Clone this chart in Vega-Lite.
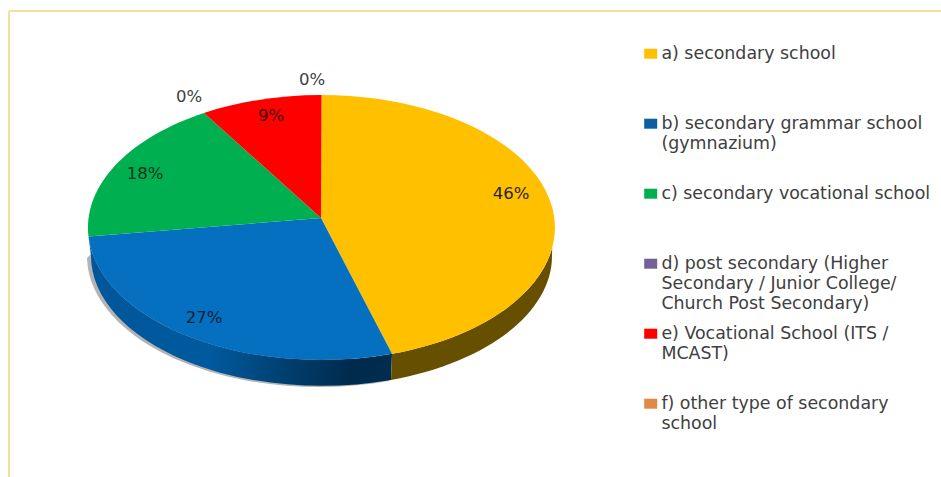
{
 "$schema":"https://vega.github.io/schema/vega-lite/v6.json",
 "width":932,"height":466,
 "padding":{"left":9,"top":11,"right":0,"bottom":0},
 "autosize":{"type":"none"},
 "background":"white",
 "config":{"view":{"stroke":null},"style":{"guide-label":{"lineHeight":20}}},
 "data":{"values":[
  {"key":"a","category":"a) secondary school","share":46,"label":"46%"},
  {"key":"b","category":"b) secondary grammar school\n(gymnazium)","share":27,"label":"27%"},
  {"key":"c","category":"c) secondary vocational school","share":18,"label":"18%"},
  {"key":"d","category":"d) post secondary (Higher\nSecondary / Junior College/\nChurch Post Secondary)","share":0,"label":"0%"},
  {"key":"e","category":"e) Vocational School (ITS /\nMCAST)","share":9,"label":"9%"},
  {"key":"f","category":"f) other type of secondary\nschool","share":0,"label":"0%"}
 ]},
 "layer":[
  {"transform":[{"filter":"datum.key=='a'"}],"mark":{"type":"rule","color":"#F5DFA0","strokeWidth":2},"encoding":{"x":{"value":0}}},
  {"transform":[{"filter":"datum.key=='a'"}],"mark":{"type":"rule","color":"#F5DFA0","strokeWidth":2},"encoding":{"y":{"value":0}}},
  {"transform":[{"filter":"datum.key=='b'"}],
   "mark":{"type":"point","filled":true,"opacity":0.4,"color":"#444444","size":4,"strokeWidth":0,
    "shape":"M-388,14 A232,131 0 0 0 -86,137 L-84,130 L-384,10 Z"}},
  {"transform":[{"filter":"datum.key=='b'"}],
   "mark":{"type":"point","filled":true,"opacity":1,"size":4,"strokeWidth":0,
    "shape":"M-83,109.8 L-84,135.9 A231,130 0 0 1 -384,12 L-386.5,-7.5 A233.5,132.5 0 0 0 -83,109.8 Z",
    "color":{"gradient":"linear","x1":0,"x2":1,"y1":0,"y2":0,"stops":[
     {"offset":0,"color":"#00569B"},{"offset":0.4,"color":"#005A9E"},{"offset":0.7,"color":"#003A66"},{"offset":0.87,"color":"#002A4C"},{"offset":1,"color":"#002D50"}]}}},
  {"transform":[{"filter":"datum.key=='a'"}],
   "mark":{"type":"point","filled":true,"opacity":1,"size":4,"strokeWidth":0,"color":"#665000",
    "shape":"M-83,109.8 A233.5,132.5 0 0 0 77.2,4 L77,12 A231,130 0 0 1 -84,135.9 Z"}},
  {"mark":{"type":"point","filled":true,"opacity":1,"size":4,"strokeWidth":0},
   "encoding":{
    "shape":{"field":"key","type":"nominal","legend":null,"scale":{
      "domain":["a","b","c","d","e","f"],
      "range":[
       "M-154,-26 L-153.5,-149 A233.5,132.5 0 0 1 -83,109.8 Z",
       "M-154,-26 L-83,109.8 A233.5,132.5 0 0 1 -386.5,-7.5 Z",
       "M-154,-26 L-386.5,-7.5 A233.5,132.5 0 0 1 -271,-131 Z",
       "M0,0Z",
       "M-154,-26 L-271,-131 A233.5,132.5 0 0 1 -153.5,-149 Z",
       "M0,0Z"]}},
    "fill":{"field":"key","type":"nominal","legend":null,"scale":{
      "domain":["a","b","c","d","e","f"],
      "range":["#FFC000","#0570C0","#00B050","#76609A","#FF0000","#E08A45"]}}}},
  {"mark":{"type":"point","filled":true,"opacity":1,"size":0,"strokeWidth":0},
   "encoding":{
    "color":{"field":"category","type":"nominal","sort":null,
     "scale":{
      "domain":["a) secondary school","b) secondary grammar school\n(gymnazium)","c) secondary vocational school","d) post secondary (Higher\nSecondary / Junior College/\nChurch Post Secondary)","e) Vocational School (ITS /\nMCAST)","f) other type of secondary\nschool"],
      "range":["#FFC000","#0E5FA0","#00B050","#76609A","#FF0000","#E08A45"]},
     "legend":{"title":null,"orient":"none","legendX":633,"legendY":39,"columns":1,"gridAlign":"all","rowPadding":11,
      "symbolType":"M-1.3,-2 H1.3 V0 H-1.3 Z","symbolSize":100,"symbolStrokeWidth":0,"symbolOpacity":1,
      "labelFont":"DejaVu Sans","labelFontSize":17.4,"labelColor":"#404040","labelLimit":400,"labelOffset":2,"labelBaseline":"alphabetic",
      "labelExpr":"split(datum.label,'\\n')"}}}},
  {"transform":[{"filter":"datum.key=='a'"}],"mark":{"type":"text","dx":36,"dy":-50,"font":"DejaVu Sans","fontSize":16.5,"color":"#262626"},"encoding":{"text":{"field":"label"}}},
  {"transform":[{"filter":"datum.key=='b'"}],"mark":{"type":"text","dx":-271,"dy":74,"font":"DejaVu Sans","fontSize":16.5,"color":"#0A1F33"},"encoding":{"text":{"field":"label"}}},
  {"transform":[{"filter":"datum.key=='c'"}],"mark":{"type":"text","dx":-330,"dy":-70,"font":"DejaVu Sans","fontSize":16.5,"color":"#07331C"},"encoding":{"text":{"field":"label"}}},
  {"transform":[{"filter":"datum.key=='d'"}],"mark":{"type":"text","dx":-286,"dy":-147,"font":"DejaVu Sans","fontSize":16.5,"color":"#404040"},"encoding":{"text":{"field":"label"}}},
  {"transform":[{"filter":"datum.key=='e'"}],"mark":{"type":"text","dx":-204,"dy":-128,"font":"DejaVu Sans","fontSize":16.5,"color":"#400000"},"encoding":{"text":{"field":"label"}}},
  {"transform":[{"filter":"datum.key=='f'"}],"mark":{"type":"text","dx":-163,"dy":-164,"font":"DejaVu Sans","fontSize":16.5,"color":"#404040"},"encoding":{"text":{"field":"label"}}}
 ]
}
